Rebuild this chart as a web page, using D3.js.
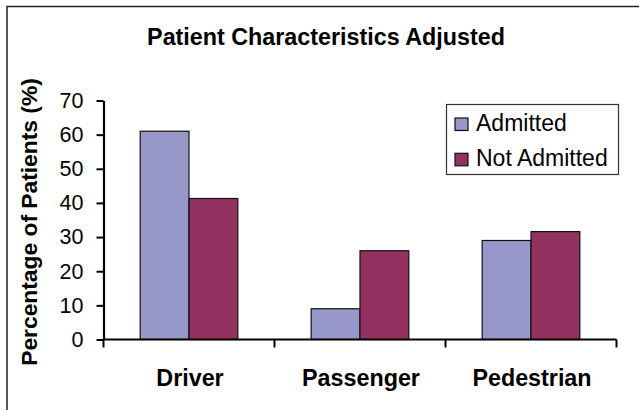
<!DOCTYPE html>
<html>
<head>
<meta charset="utf-8">
<script src="https://cdn.jsdelivr.net/npm/d3@7"></script>
<style>
  html, body { margin: 0; padding: 0; background: #fff; }
  svg { display: block; font-family: "Liberation Sans", Arial, sans-serif; }
</style>
</head>
<body>
<div id="chart"></div>
<script>
// chart values
var categories = ["Driver", "Passenger", "Pedestrian"];
var series = ["Admitted", "Not Admitted"];
var admitted = [61, 9, 29];
var notAdmitted = [41.3, 26, 31.6];
var yTicks = [0, 10, 20, 30, 40, 50, 60, 70];
var colors = ["#9797c9", "#933260"];

var W = 639, H = 410;
var plotLeft = 103.5, plotRight = 616.5, plotTop = 100.5, plotBottom = 339.5;

var svg = d3.select("#chart").append("svg")
    .attr("width", W)
    .attr("height", H);

// outer frame (right and bottom edges fall outside the picture)
svg.append("rect")
    .attr("x", 7).attr("y", 6.5)
    .attr("width", W + 20).attr("height", H + 20)
    .attr("fill", "none")
    .attr("stroke", "#222")
    .attr("stroke-width", 1.5);

svg.append("text")
    .attr("x", 326).attr("y", 45)
    .attr("text-anchor", "middle")
    .attr("font-size", 23.3)
    .attr("font-weight", "bold")
    .text("Patient Characteristics Adjusted");

var x0 = d3.scaleBand().domain(categories).range([plotLeft, plotRight]);
var bw = x0.bandwidth();
var x1 = d3.scaleBand().domain(series).range([bw * 0.2145, bw * 0.7855]);
var y = d3.scaleLinear().domain([0, 70]).range([plotBottom, plotTop]);

var rows = categories.map(function(c, i) {
  return { cat: c, values: [admitted[i], notAdmitted[i]] };
});

var groups = svg.selectAll(".grp")
    .data(rows)
  .enter().append("g")
    .attr("class", "grp")
    .attr("transform", function(d) { return "translate(" + x0(d.cat) + ",0)"; });

groups.selectAll("rect")
    .data(function(d) {
      return d.values.map(function(v, j) { return { s: series[j], v: v, j: j }; });
    })
  .enter().append("rect")
    .attr("x", function(d) { return x1(d.s); })
    .attr("y", function(d) { return y(d.v); })
    .attr("width", x1.bandwidth())
    .attr("height", function(d) { return plotBottom - y(d.v); })
    .attr("fill", function(d) { return colors[d.j]; })
    .attr("stroke", "#111")
    .attr("stroke-width", 1.2);

// y axis
var yAxis = svg.append("g")
    .attr("transform", "translate(" + plotLeft + ",0)")
    .call(d3.axisLeft(y).tickValues(yTicks).tickSize(7).tickPadding(13).tickSizeOuter(0));
yAxis.select(".domain").attr("stroke-width", 2.2).attr("stroke", "#000");
yAxis.selectAll(".tick line").attr("stroke-width", 2).attr("stroke", "#000");
yAxis.selectAll(".tick text")
    .attr("font-size", 21.5)
    .attr("font-family", "Liberation Sans, Arial, sans-serif")
    .attr("fill", "#000");

// x axis with ticks between categories
var xAxis = svg.append("g")
    .attr("transform", "translate(0," + plotBottom + ")");
xAxis.append("line")
    .attr("x1", plotLeft).attr("x2", plotRight)
    .attr("stroke", "#000").attr("stroke-width", 2.2);
var edges = categories.map(function(c) { return x0(c); }).concat([x0(categories[categories.length - 1]) + bw]);
xAxis.selectAll(".edge")
    .data(edges)
  .enter().append("line")
    .attr("class", "edge")
    .attr("x1", function(d) { return d; })
    .attr("x2", function(d) { return d; })
    .attr("y1", 0).attr("y2", 8)
    .attr("stroke", "#000").attr("stroke-width", 2);
xAxis.selectAll(".cat")
    .data(categories)
  .enter().append("text")
    .attr("class", "cat")
    .attr("x", function(d) { return x0(d) + bw / 2 + 1; })
    .attr("y", 46)
    .attr("text-anchor", "middle")
    .attr("font-size", 23.3)
    .attr("font-weight", "bold")
    .text(function(d) { return d; });

svg.append("text")
    .attr("transform", "translate(37,222) rotate(-90)")
    .attr("text-anchor", "middle")
    .attr("font-size", 22.8)
    .attr("font-weight", "bold")
    .text("Percentage of Patients (%)");

// legend
var legend = svg.append("g");
legend.append("rect")
    .attr("x", 446.5).attr("y", 104.5)
    .attr("width", 172).attr("height", 70)
    .attr("fill", "#fff")
    .attr("stroke", "#333")
    .attr("stroke-width", 1.2);
var items = legend.selectAll(".item")
    .data(series)
  .enter().append("g")
    .attr("class", "item")
    .attr("transform", function(d, i) { return "translate(455," + (118 + i * 35.3) + ")"; });
items.append("rect")
    .attr("width", 13).attr("height", 12.5)
    .attr("fill", function(d, i) { return colors[i]; })
    .attr("stroke", "#111")
    .attr("stroke-width", 1.2);
items.append("text")
    .attr("x", 21).attr("y", 13)
    .attr("font-size", 23)
    .text(function(d) { return d; });
</script>
</body>
</html>
